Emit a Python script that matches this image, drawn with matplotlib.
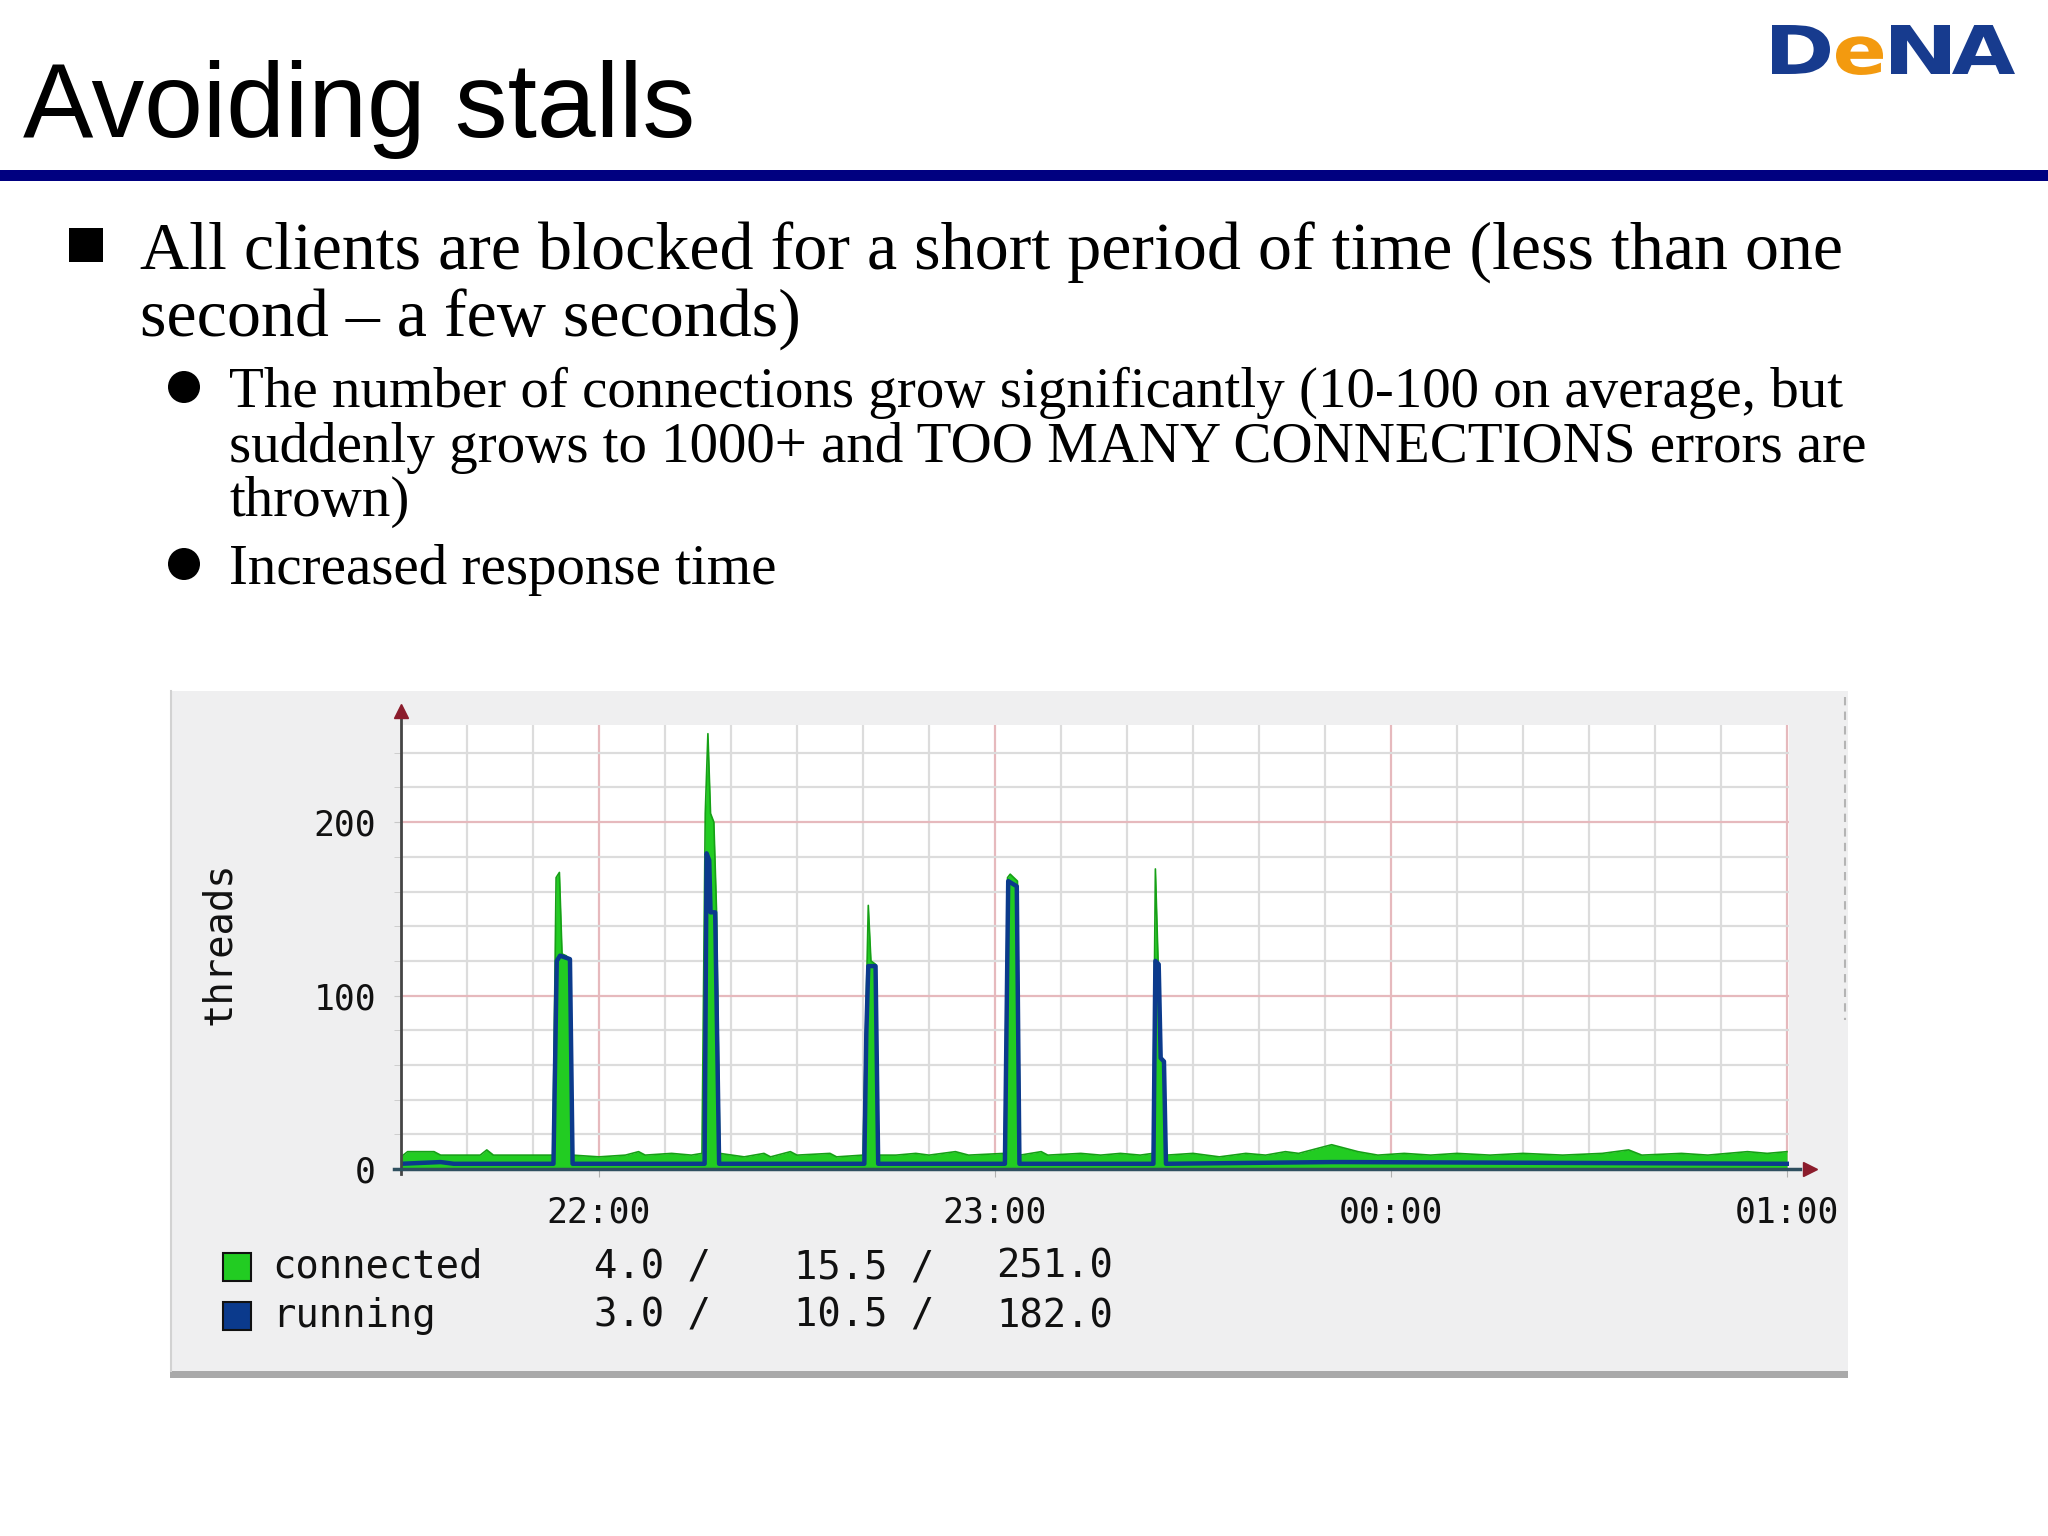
import matplotlib

matplotlib.use("Agg")
import matplotlib.pyplot as plt
from matplotlib.font_manager import FontProperties
from matplotlib.patches import Circle, PathPatch, Rectangle
from matplotlib.textpath import TextPath
from matplotlib.transforms import Affine2D

W, H = 2048, 1536  # slide size in px, everything below is laid out in px

# --- slide text ---
title = "Avoiding stalls"
bullet_lines = ["All clients are blocked for a short period of time (less than one",
                "second \u2013 a few seconds)"]
sub1_lines = ["The number of connections grow significantly (10-100 on average, but",
              "suddenly grows to 1000+ and TOO MANY CONNECTIONS errors are",
              "thrown)"]
sub2_lines = ["Increased response time"]

# --- chart data (minutes after 21:30) ---
conn_t = [0, 1, 5, 6, 12, 13, 14, 22, 23.0, 23.5, 24.0, 24.4, 25.0, 25.6, 26.0,
          30, 34, 36, 37, 41, 44, 45.6, 46.1, 46.5, 46.9, 47.4, 47.8, 48.3,
          52, 55, 56, 59, 60, 65, 66, 70, 70.4, 70.8, 71.2, 71.9, 72.3,
          75, 78, 80, 84, 86, 91.4, 91.9, 92.3, 93.4, 93.8,
          97, 98, 103, 106, 109, 112, 113.9, 114.3, 114.7, 115.2, 115.6, 116.0,
          120, 124, 128, 131, 134, 136, 139, 141, 143, 145, 148, 152, 156, 160,
          165, 170, 176, 182, 186, 188, 194, 198, 204, 207, 210]
conn_v = [7, 10, 10, 8, 8, 11, 8, 8, 8, 168, 171, 124, 123, 121, 8,
          7, 8, 10, 8, 9, 8, 9, 205, 251, 205, 200, 150, 9,
          7, 9, 7, 10, 8, 9, 7, 8, 80, 152, 120, 118, 8,
          8, 9, 8, 10, 8, 9, 168, 170, 166, 8,
          10, 8, 9, 8, 9, 8, 9, 173, 121, 64, 60, 8,
          9, 7, 9, 8, 10, 9, 12, 14, 12, 10, 8, 9, 8, 9,
          8, 9, 8, 9, 11, 8, 9, 8, 10, 9, 10]
run_t = [0, 6, 8, 23.1, 23.6, 24.1, 25.6, 26.0, 46.0, 46.3, 46.7, 46.9, 47.6, 48.2,
         70.2, 70.5, 70.8, 71.9, 72.3, 91.5, 92.0, 93.3, 93.7,
         114.0, 114.3, 114.8, 115.1, 115.6, 115.9, 141, 143, 210]
run_v = [3, 4, 3, 3, 120, 123, 121, 3, 3, 182, 178, 148, 148, 3,
         3, 78, 117, 117, 3, 3, 166, 163, 3,
         3, 120, 118, 64, 62, 3, 4, 4, 3]

hour_pos = [30, 90, 150, 210]
hour_labels = ["22:00", "23:00", "00:00", "01:00"]
y_labels = [0, 100, 200]

series_names = ["connected", "running"]
series_stats = [[4.0, 15.5, 251.0], [3.0, 10.5, 182.0]]
series_colors = ["#22cc22", "#0b3a8c"]

# logo letters: (char, ink left, ink right, colour)
logo = [("D", 1772, 1830, "#173b8e"), ("e", 1836, 1883, "#f39a0f"),
        ("N", 1891, 1950, "#173b8e"), ("A", 1952, 2015, "#173b8e")]

MONO = "DejaVu Sans Mono"
SERIF = "Liberation Serif"

fig = plt.figure(figsize=(W / 100, H / 100), dpi=100)

# background axes in pixel coordinates (y down) for the slide itself
bg = fig.add_axes([0, 0, 1, 1])
bg.set_xlim(0, W)
bg.set_ylim(H, 0)
bg.axis("off")
bg.set_zorder(0)

bg.text(23, 137, title, fontsize=76, family="Liberation Sans", va="baseline")
bg.add_patch(Rectangle((0, 170), W, 11, color="#000080", lw=0))

# DeNA logo: glyph outlines stretched to the wide letter boxes of the original
logo_font = FontProperties(family="DejaVu Sans", weight="bold")
cap = TextPath((0, 0), "D", size=1, prop=logo_font).get_extents().y1
sy = 49 / cap
for ch, x0, x1, col in logo:
    p = TextPath((0, 0), ch, size=1, prop=logo_font)
    ext = p.get_extents()
    sx = (x1 - x0) / ext.width
    tr = Affine2D().translate(-ext.x0, 0).scale(sx, -sy).translate(x0, 74)
    bg.add_patch(PathPatch(tr.transform_path(p), color=col, lw=0))

# bullets
bg.add_patch(Rectangle((69, 228), 34, 34, color="black", lw=0))
for i, line in enumerate(bullet_lines):
    bg.text(140, 270 + i * 67, line, fontsize=49, family=SERIF, va="baseline")

for cy in (387, 564):
    bg.add_patch(Circle((184, cy), 16, color="black", lw=0))
for i, line in enumerate(sub1_lines):
    bg.text(229, 407 + i * 54.5, line, fontsize=41, family=SERIF, va="baseline")
bg.text(229, 584, sub2_lines[0], fontsize=41, family=SERIF, va="baseline")

# chart panel
bg.add_patch(Rectangle((170, 691), 1678, 687, color="#efeff0", lw=0))
bg.add_patch(Rectangle((170, 1371), 1678, 7, color="#a9a9a9", lw=0))
bg.plot([171, 171], [691, 1371], color="#d2d2d2", lw=1.5)
bg.plot([1845, 1845], [697, 1020], color="#b4b4b4", lw=1.5, ls=(0, (4, 3)))

bg.text(219, 943, "threads", rotation=90, fontsize=28, family=MONO, ha="center", va="center", color="#111111")

# legend
for i, name in enumerate(series_names):
    cy = 1267 + i * 49
    bg.add_patch(Rectangle((223, cy - 14), 28, 28, facecolor=series_colors[i], edgecolor="#111111", lw=1.5))
    bg.text(272, cy, name, fontsize=28, family=MONO, va="center", color="#111111")
    cur, avg, mx = series_stats[i]
    bg.text(594, cy, f"{cur:.1f} /", fontsize=28, family=MONO, va="center", color="#111111")
    bg.text(794, cy, f"{avg:.1f} /", fontsize=28, family=MONO, va="center", color="#111111")
    bg.text(996, cy, f"{mx:.1f}", fontsize=28, family=MONO, va="center", color="#111111")

# the graph itself
ax = fig.add_axes([401 / W, 1 - 1169 / H, (1789 - 401) / W, (1169 - 725) / H])
ax.set_zorder(1)
ax.set_facecolor("white")
ax.set_xlim(0, 210.3)
ax.set_ylim(0, 256)
for s in ax.spines.values():
    s.set_visible(False)

ax.set_xticks(hour_pos)
ax.set_xticklabels(hour_labels, family=MONO, fontsize=25, color="#111111")
ax.set_xticks(range(0, 211, 10), minor=True)
ax.set_yticks(y_labels)
ax.set_yticklabels([str(v) for v in y_labels], family=MONO, fontsize=25, color="#111111")
ax.set_yticks(range(20, 241, 20), minor=True)
ax.tick_params(axis="x", which="major", length=6, pad=13, color="#b0b0b0")
ax.tick_params(axis="x", which="minor", length=0)
ax.tick_params(axis="y", which="both", length=5, pad=13, color="#c8c8c8")
ax.grid(which="minor", color="#dcdcdc", lw=1.6)
ax.grid(which="major", color="#e6b9bd", lw=1.6)
ax.set_axisbelow(True)

ax.fill_between(conn_t, conn_v, 0, color=series_colors[0], lw=0, zorder=2)
ax.plot(conn_t, conn_v, color="#16a016", lw=1.2, zorder=2)
ax.plot(run_t, run_v, color=series_colors[1], lw=3.2, zorder=3)

# axis lines with arrow heads
ax.plot([0, 0], [-3, 262], color="#454545", lw=2, clip_on=False, zorder=4)
ax.plot([-1, 212], [0, 0], color="#2f4f5f", lw=2.5, clip_on=False, zorder=4)
ax.plot([0], [264], marker="^", ms=10, color="#8b1c2c", clip_on=False, zorder=5)
ax.plot([213.5], [0], marker=">", ms=10, color="#8b1c2c", clip_on=False, zorder=5)

fig.savefig("out.png", dpi=100)
